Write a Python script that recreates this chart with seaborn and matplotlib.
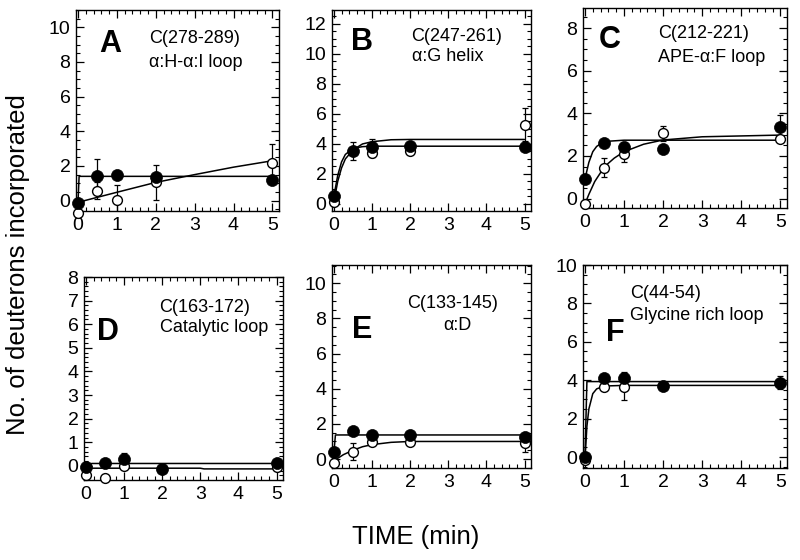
import numpy as np
import seaborn as sns
import matplotlib.pyplot as plt
from matplotlib.ticker import MultipleLocator

sns.set_style("ticks")
plt.rcParams["font.family"] = ["Liberation Sans", "DejaVu Sans"]
plt.rcParams["text.color"] = "black"
plt.rcParams["xtick.color"] = "black"
plt.rcParams["ytick.color"] = "black"
plt.rcParams["xtick.labelcolor"] = "black"
plt.rcParams["ytick.labelcolor"] = "black"

# Sampling times (min)
times = [0, 0.5, 1, 2, 5]

# Panel A - C(278-289)
a_filled = [-0.15, 1.4, 1.5, 1.35, 1.2]
a_filled_err = [0.1, 1.0, 0.15, 0.15, 0.15]
a_open = [-0.72, 0.58, 0.02, 1.06, 2.17]
a_open_err = [0.1, 0.5, 0.9, 1.0, 1.1]
a_fit_filled_x = [0, 0.03, 5]
a_fit_filled_y = [-0.15, 1.4, 1.4]
a_fit_open_x = [0, 1, 2, 3, 4, 5]
a_fit_open_y = [-0.1, 0.48, 1.05, 1.5, 1.93, 2.3]

# Panel B - C(247-261)
b_filled = [0.53, 3.53, 3.82, 3.87, 3.82]
b_filled_err = [0.1, 0.15, 0.5, 0.1, 0.1]
b_open = [0.15, 3.5, 3.4, 3.55, 5.27]
b_open_err = [0.1, 0.6, 0.3, 0.15, 1.1]
b_fit_filled_x = [0, 0.1, 0.2, 0.3, 0.5, 0.75, 1, 1.5, 2, 5]
b_fit_filled_y = [0.53, 1.9, 2.8, 3.3, 3.7, 3.82, 3.85, 3.85, 3.85, 3.85]
b_fit_open_x = [0, 0.1, 0.2, 0.3, 0.5, 0.75, 1, 1.5, 2, 5]
b_fit_open_y = [0.15, 1.5, 2.4, 3.0, 3.6, 4.0, 4.15, 4.28, 4.3, 4.3]

# Panel C - C(212-221)
c_filled = [0.92, 2.59, 2.44, 2.33, 3.34]
c_filled_err = [0.1, 0.1, 0.2, 0.1, 0.6]
c_open = [-0.25, 1.45, 2.09, 3.06, 2.78]
c_open_err = [0.1, 0.45, 0.35, 0.35, 0.1]
c_fit_filled_x = [0, 0.1, 0.2, 0.3, 0.5, 1, 5]
c_fit_filled_y = [0.92, 1.7, 2.2, 2.45, 2.68, 2.74, 2.74]
c_fit_open_x = [0, 0.1, 0.25, 0.5, 0.75, 1, 1.5, 2, 3, 5]
c_fit_open_y = [-0.25, 0.2, 0.8, 1.5, 1.9, 2.2, 2.55, 2.75, 2.9, 2.98]

# Panel D - C(163-172)
d_filled = [-0.07, 0.1, 0.31, -0.14, 0.1]
d_filled_err = [0.1, 0.15, 0.25, 0.1, 0.1]
d_open = [-0.39, -0.5, -0.01, -0.15, -0.04]
d_open_err = [0.1, 0.1, 0.1, 0.1, 0.1]
d_fit_filled_x = [0, 0.15, 5]
d_fit_filled_y = [-0.07, 0.1, 0.1]
d_fit_open_x = [0, 0.1, 3, 3.1, 5]
d_fit_open_y = [-0.39, -0.1, -0.1, -0.13, -0.13]

# Panel E - C(133-145)
e_filled = [0.38, 1.59, 1.37, 1.37, 1.27]
e_filled_err = [0.1, 0.2, 0.2, 0.2, 0.1]
e_open = [-0.25, 0.42, 0.99, 0.95, 0.89]
e_open_err = [0.1, 0.5, 0.1, 0.1, 0.5]
e_fit_filled_x = [0, 0.04, 5]
e_fit_filled_y = [0.38, 1.37, 1.37]
e_fit_open_x = [0, 0.25, 0.5, 0.75, 1, 1.5, 2, 5]
e_fit_open_y = [-0.1, 0.25, 0.5, 0.7, 0.82, 0.95, 1.0, 1.0]

# Panel F - C(44-54)
f_filled = [0.0, 4.14, 4.14, 3.71, 3.88]
f_filled_err = [0.1, 0.15, 0.3, 0.1, 0.35]
f_open = [-0.17, 3.67, 3.67, 3.71, 3.88]
f_open_err = [0.1, 0.1, 0.7, 0.1, 0.1]
f_fit_filled_x = [0, 0.05, 5]
f_fit_filled_y = [0.0, 3.93, 3.93]
f_fit_open_x = [0, 0.05, 0.1, 0.2, 0.3, 0.5, 1, 5]
f_fit_open_y = [-0.17, 1.6, 2.5, 3.3, 3.55, 3.7, 3.73, 3.73]

panels = [
    dict(letter="A", rect=[76, 10, 279, 211], ylim=(-0.6, 11), major=2, minor=0.5,
         filled=a_filled, filled_err=a_filled_err, open=a_open, open_err=a_open_err,
         ff=(a_fit_filled_x, a_fit_filled_y), fo=(a_fit_open_x, a_fit_open_y),
         letter_pos=(0.17, 0.83),
         texts=[("C(278-289)", 0.36, 0.86), ("\u03b1:H-\u03b1:I loop", 0.36, 0.74)]),
    dict(letter="B", rect=[332, 10, 531, 211], ylim=(-0.47, 12.93), major=2, minor=0.5,
         filled=b_filled, filled_err=b_filled_err, open=b_open, open_err=b_open_err,
         ff=(b_fit_filled_x, b_fit_filled_y), fo=(b_fit_open_x, b_fit_open_y),
         letter_pos=(0.15, 0.84),
         texts=[("C(247-261)", 0.40, 0.87), ("\u03b1:G helix", 0.40, 0.77)]),
    dict(letter="C", rect=[583, 8, 787, 208], ylim=(-0.44, 8.94), major=2, minor=0.5,
         filled=c_filled, filled_err=c_filled_err, open=c_open, open_err=c_open_err,
         ff=(c_fit_filled_x, c_fit_filled_y), fo=(c_fit_open_x, c_fit_open_y),
         letter_pos=(0.13, 0.84),
         texts=[("C(212-221)", 0.37, 0.87), ("APE-\u03b1:F loop", 0.37, 0.75)]),
    dict(letter="D", rect=[84, 277, 283, 480], ylim=(-0.6, 8.0), major=1, minor=0.2,
         filled=d_filled, filled_err=d_filled_err, open=d_open, open_err=d_open_err,
         ff=(d_fit_filled_x, d_fit_filled_y), fo=(d_fit_open_x, d_fit_open_y),
         letter_pos=(0.12, 0.73),
         texts=[("C(163-172)", 0.38, 0.85), ("Catalytic loop", 0.38, 0.75)]),
    dict(letter="E", rect=[332, 265, 531, 468], ylim=(-0.51, 11.04), major=2, minor=0.5,
         filled=e_filled, filled_err=e_filled_err, open=e_open, open_err=e_open_err,
         ff=(e_fit_filled_x, e_fit_filled_y), fo=(e_fit_open_x, e_fit_open_y),
         letter_pos=(0.15, 0.68),
         texts=[("C(133-145)", 0.38, 0.81), ("\u03b1:D", 0.56, 0.70)]),
    dict(letter="F", rect=[583, 265, 787, 468], ylim=(-0.57, 10), major=2, minor=0.5,
         filled=f_filled, filled_err=f_filled_err, open=f_open, open_err=f_open_err,
         ff=(f_fit_filled_x, f_fit_filled_y), fo=(f_fit_open_x, f_fit_open_y),
         letter_pos=(0.16, 0.665),
         texts=[("C(44-54)", 0.23, 0.86), ("Glycine rich loop", 0.23, 0.75)]),
]

W, H = 800, 560
fig = plt.figure(figsize=(W / 100, H / 100), dpi=100)

for p in panels:
    x0, y0, x1, y1 = p["rect"]
    ax = fig.add_axes([x0 / W, 1 - y1 / H, (x1 - x0) / W, (y1 - y0) / H])

    # fitted curves
    for fx, fy in (p["ff"], p["fo"]):
        sns.lineplot(x=fx, y=fy, ax=ax, color="black", lw=1.1, sort=False, zorder=2)

    # error bars
    ax.errorbar(times, p["open"], yerr=p["open_err"], fmt="none", ecolor="black",
                elinewidth=0.9, capsize=2.5, capthick=0.9, zorder=3)
    ax.errorbar(times, p["filled"], yerr=p["filled_err"], fmt="none", ecolor="black",
                elinewidth=0.9, capsize=2.5, capthick=0.9, zorder=3)

    # data points (open = one state, filled = the other)
    sns.scatterplot(x=times, y=p["open"], ax=ax, s=50, facecolor="white",
                    edgecolor="black", linewidth=1.0, zorder=4, clip_on=False)
    sns.scatterplot(x=times, y=p["filled"], ax=ax, s=75, color="black",
                    edgecolor="black", linewidth=0.5, zorder=5, clip_on=False)

    ax.set_xlim(-0.05, 5.17)
    ax.set_ylim(*p["ylim"])
    ax.xaxis.set_major_locator(MultipleLocator(1))
    ax.xaxis.set_minor_locator(MultipleLocator(0.2))
    ax.yaxis.set_major_locator(MultipleLocator(p["major"]))
    ax.yaxis.set_minor_locator(MultipleLocator(p["minor"]))
    ax.tick_params(which="both", direction="in", top=True, right=True, labelsize=14,
                   color="black", labelcolor="black", pad=4)
    ax.tick_params(which="major", length=6, width=0.9)
    ax.tick_params(which="minor", length=3, width=0.8)
    for sp in ax.spines.values():
        sp.set_color("black")
        sp.set_linewidth(1.0)

    ax.text(p["letter_pos"][0], p["letter_pos"][1], p["letter"], transform=ax.transAxes,
            fontsize=22, fontweight="bold", ha="center", va="center", color="black")
    for t, tx, ty in p["texts"]:
        ax.text(tx, ty, t, transform=ax.transAxes, fontsize=13, ha="left", va="center",
                color="black")

fig.text(0.0225, 0.527, "No. of deuterons incorporated", rotation=90, fontsize=18.5,
         ha="center", va="center", color="black")
fig.text(0.52, 0.041, "TIME (min)", fontsize=18.5, ha="center", va="center", color="black")

fig.savefig("out.png", dpi=100)
